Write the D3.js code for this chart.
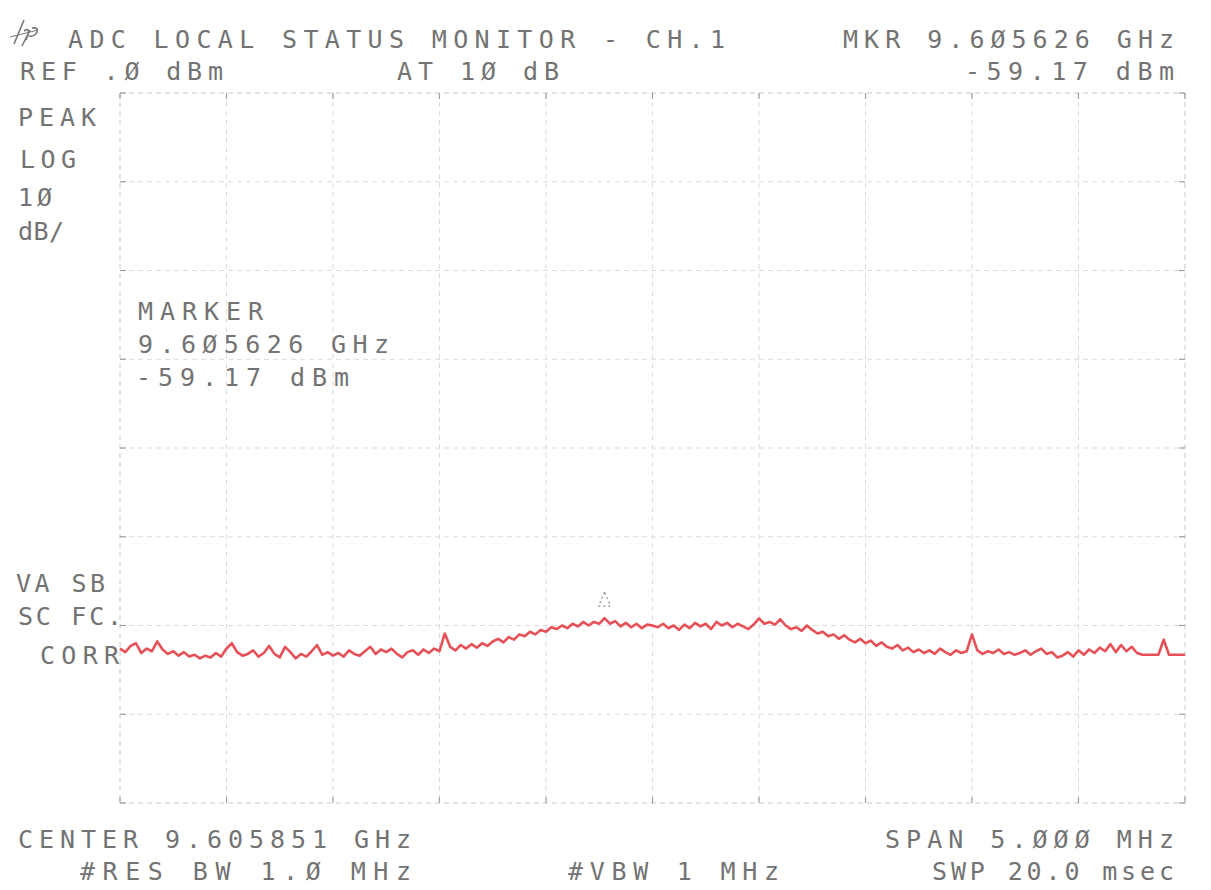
<!DOCTYPE html>
<html>
<head>
<meta charset="utf-8">
<script src="https://cdn.jsdelivr.net/npm/d3@7"></script>
<style>
  html, body { margin: 0; padding: 0; background: #fff; }
  svg { display: block; }
  .lbl { font-family: "DejaVu Sans Mono", "Liberation Mono", monospace; font-size: 25px; fill: #737373; }
</style>
</head>
<body>
<svg id="chart" width="1211" height="890"></svg>
<script>
// Instrument settings
const refLevel = 0;          // dBm, top graticule line
const dbPerDiv = 10;
const vDivs = 8;
const hDivs = 10;
const centerGHz = 9.605851;
const spanMHz = 5.0;
const markerGHz = 9.605626;
const markerDbm = -59.17;

// Swept trace amplitude (dBm), evenly spaced across the span
const traceDbm = [
  -62.6,-63.0,-62.3,-62.0,-63.1,-62.6,-62.9,-61.8,-62.7,-63.2,
  -62.9,-63.4,-63.0,-63.5,-63.3,-63.7,-63.4,-63.6,-63.1,-63.5,
  -62.6,-62.0,-63.0,-63.4,-63.2,-62.8,-63.5,-63.1,-62.3,-63.2,
  -63.6,-62.4,-63.0,-63.7,-63.2,-63.5,-62.9,-62.2,-63.3,-63.0,
  -63.4,-63.1,-63.5,-62.8,-63.2,-63.4,-62.9,-62.4,-63.2,-62.7,
  -63.0,-62.6,-63.2,-63.6,-63.0,-62.8,-63.3,-62.7,-63.1,-62.6,
  -62.9,-60.9,-62.4,-62.8,-62.2,-62.6,-62.1,-62.5,-62.0,-62.3,
  -61.8,-61.5,-61.9,-61.3,-61.6,-61.0,-61.2,-60.7,-61.0,-60.5,
  -60.7,-60.2,-60.4,-60.0,-60.3,-59.8,-60.1,-59.6,-60.0,-59.6,
  -59.8,-59.17,-59.8,-59.5,-60.1,-59.7,-60.2,-59.8,-60.3,-59.9,
  -60.0,-60.2,-59.8,-60.3,-60.0,-60.5,-59.9,-60.3,-59.7,-60.1,
  -59.8,-60.4,-59.6,-60.0,-59.7,-60.2,-59.8,-60.1,-60.4,-59.9,
  -59.2,-59.8,-59.6,-59.9,-59.3,-60.0,-60.4,-60.2,-60.6,-60.0,
  -60.5,-60.9,-60.7,-61.2,-61.0,-61.5,-61.1,-61.6,-61.9,-61.5,
  -62.0,-61.7,-62.3,-61.9,-62.4,-62.6,-62.2,-62.8,-62.5,-63.0,
  -62.7,-63.1,-62.8,-63.2,-62.6,-63.0,-63.3,-62.8,-63.1,-62.9,
  -61.0,-62.8,-63.2,-62.9,-63.1,-62.7,-63.2,-63.0,-63.3,-63.1,
  -62.8,-63.3,-62.9,-62.6,-63.2,-63.0,-63.6,-63.4,-63.0,-63.5,
  -62.8,-63.3,-62.7,-63.1,-62.5,-62.9,-62.1,-63.0,-62.2,-62.9,
  -62.4,-63.1,-63.3,-63.3,-63.3,-63.3,-61.6,-63.3,-63.3,-63.3,
  -63.3
];

// Annotation text
const titleText = "ADC LOCAL STATUS MONITOR - CH.1";
const refText = "REF .Ø dBm";
const attenText = "AT 1Ø dB";
const mkrFreqText = "MKR 9.6Ø5626 GHz";
const mkrAmpText = "-59.17 dBm";
const scaleLabels = ["PEAK", "LOG", "1Ø", "dB/"];
const markerBox = ["MARKER", "9.6Ø5626 GHz", "-59.17 dBm"];
const modeLabels = ["VA SB", "SC FC.", "CORR"];
const centerText = "CENTER 9.605851 GHz";
const resText = "#RES BW 1.Ø MHz";
const vbwText = "#VBW 1 MHz";
const spanText = "SPAN 5.ØØØ MHz";
const sweepText = "SWP 20.0 msec";

const svg = d3.select("#chart");
const plot = { left: 120, right: 1185, top: 93, bottom: 803 };

const startGHz = centerGHz - spanMHz / 2000;
const stopGHz = centerGHz + spanMHz / 2000;
const x = d3.scaleLinear().domain([startGHz, stopGHz]).range([plot.left, plot.right]);
const y = d3.scaleLinear().domain([refLevel - vDivs * dbPerDiv, refLevel]).range([plot.bottom, plot.top]);
const freqOf = i => startGHz + (stopGHz - startGHz) * i / (traceDbm.length - 1);

// Graticule
const g = svg.append("g");
const vTicks = d3.range(hDivs + 1).map(i => startGHz + (stopGHz - startGHz) * i / hDivs);
const hTicks = d3.range(vDivs + 1).map(i => refLevel - i * dbPerDiv);

g.selectAll("line.v").data(vTicks).join("line")
  .attr("x1", d => x(d)).attr("x2", d => x(d))
  .attr("y1", plot.top).attr("y2", plot.bottom)
  .attr("stroke", (d, i) => (i === 0 || i === hDivs) ? "#c8c8c8" : "#dcdcdc")
  .attr("stroke-width", 1)
  .attr("stroke-dasharray", "5,4");

g.selectAll("line.h").data(hTicks).join("line")
  .attr("x1", plot.left).attr("x2", plot.right)
  .attr("y1", d => y(d)).attr("y2", d => y(d))
  .attr("stroke", (d, i) => (i === 0 || i === vDivs) ? "#c8c8c8" : "#dcdcdc")
  .attr("stroke-width", 1)
  .attr("stroke-dasharray", "5,4");

// Small tick marks on the outer frame
const fr = svg.append("g").attr("stroke", "#a0a0a0").attr("stroke-width", 1.2);
vTicks.forEach(d => {
  fr.append("line").attr("x1", x(d)).attr("x2", x(d)).attr("y1", plot.top).attr("y2", plot.top + 6);
  fr.append("line").attr("x1", x(d)).attr("x2", x(d)).attr("y1", plot.bottom - 6).attr("y2", plot.bottom);
});
hTicks.forEach(d => {
  fr.append("line").attr("x1", plot.left).attr("x2", plot.left + 6).attr("y1", y(d)).attr("y2", y(d));
  fr.append("line").attr("x1", plot.right - 6).attr("x2", plot.right).attr("y1", y(d)).attr("y2", y(d));
});

// Trace
const line = d3.line().x((d, i) => x(freqOf(i))).y(d => y(d));
svg.append("path")
  .datum(traceDbm)
  .attr("d", line)
  .attr("fill", "none")
  .attr("stroke", "#e5484f")
  .attr("stroke-width", 2.6)
  .attr("stroke-linejoin", "round")
  .attr("opacity", 0.95);

// Marker symbol above the marked point
const mx = x(markerGHz), my = y(markerDbm);
svg.append("path")
  .attr("d", `M${mx},${my - 26} L${mx - 6},${my - 12} L${mx + 6},${my - 12} Z`)
  .attr("fill", "none")
  .attr("stroke", "#8a8a8a")
  .attr("stroke-width", 1.2)
  .attr("stroke-dasharray", "2,3");

// Logo
const logo = svg.append("g").attr("stroke", "#777").attr("stroke-width", 1.6).attr("fill", "none");
logo.append("path").attr("d", "M14,44 L24,20 M24,31 Q30,27 28,35 L26,40 M30,30 L22,46 M32,28 Q40,27 36,34 Q33,37 29,36");
logo.append("path").attr("d", "M10,37 L38,30").attr("stroke-width", 1);

// Text: each string is spread between a start and end x
function label(txt, x0, x1, yb) {
  svg.append("text")
    .attr("class", "lbl")
    .attr("x", x0)
    .attr("y", yb)
    .attr("textLength", x1 - x0)
    .attr("lengthAdjust", "spacing")
    .text(txt);
}
label(titleText, 68, 725, 48);
label(mkrFreqText, 843, 1174, 48);
label(refText, 20, 223, 80);
label(attenText, 397, 559, 80);
label(mkrAmpText, 965, 1174, 80);

label(scaleLabels[0], 18, 96, 126);
label(scaleLabels[1], 20, 76, 168);
label(scaleLabels[2], 18, 52, 206);
label(scaleLabels[3], 18, 64, 240);

label(markerBox[0], 138, 263, 320);
label(markerBox[1], 138, 389, 353);
label(markerBox[2], 136, 349, 386);

label(modeLabels[0], 16, 105, 592);
label(modeLabels[1], 18, 122, 625);
label(modeLabels[2], 40, 119, 664);

label(centerText, 18, 411, 848);
label(resText, 80, 411, 880);
label(vbwText, 568, 779, 880);
label(spanText, 885, 1174, 848);
label(sweepText, 932, 1174, 880);
</script>
</body>
</html>
